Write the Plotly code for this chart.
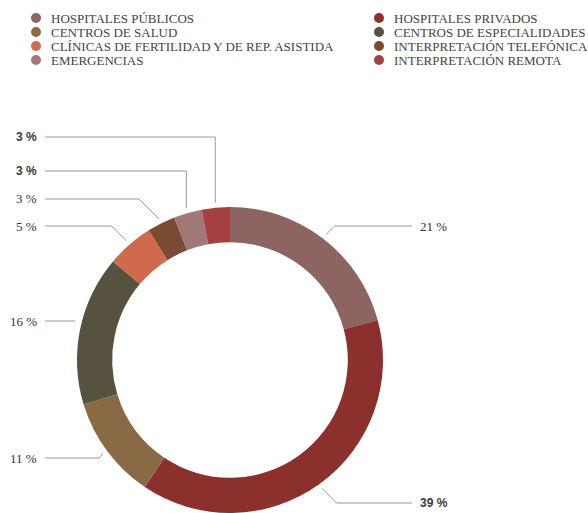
import math
import plotly.graph_objects as go

# Distribución por tipo de centro (porcentajes)
categories = [
    "HOSPITALES PÚBLICOS",
    "HOSPITALES PRIVADOS",
    "CENTROS DE SALUD",
    "CENTROS DE ESPECIALIDADES",
    "CLÍNICAS DE FERTILIDAD Y DE REP. ASISTIDA",
    "INTERPRETACIÓN TELEFÓNICA",
    "EMERGENCIAS",
    "INTERPRETACIÓN REMOTA",
]
values = [21, 39, 11, 16, 5, 3, 3, 3]
colors = ["#8c6462", "#8b302c", "#8a6a45", "#575140",
          "#cf6a4c", "#7a4a33", "#a27778", "#a4403f"]

W, H = 588, 513
CX, CY, R = 230, 360, 153
HOLE = 0.77


def px(x):
    return x / W


def py(y):
    return 1 - y / H


fig = go.Figure(go.Pie(
    labels=categories,
    values=values,
    hole=HOLE,
    sort=False,
    direction="clockwise",
    rotation=0,
    marker=dict(colors=colors, line=dict(width=0)),
    textinfo="none",
    hoverinfo="label+percent",
    domain=dict(x=[px(CX - R), px(CX + R)], y=[py(CY + R), py(CY - R)]),
    showlegend=False,
))

# leader-line layout: label row (pixel y), side, line style, bold label
label_rows = [226, 503, 458, 321, 226, 199, 171, 137]
label_side = ["right", "right", "left", "left", "left", "left", "left", "left"]
line_style = ["diag", "diag", "diag", "flat", "diag", "diag", "vert", "vert"]
label_bold = [False, True, False, False, False, False, True, True]
LEFT_END, RIGHT_END = 45, 412

serif = dict(family="Liberation Serif", size=13, color="#333")
bold = dict(family="Liberation Sans", size=12, color="#3a3a3a", weight="bold")

shapes = []
annotations = []
total = sum(values)
cum = 0.0
for i, v in enumerate(values):
    mid = (cum + v / 2) / total * 2 * math.pi
    cum += v
    sx = CX + (R + 5) * math.sin(mid)
    sy = CY - (R + 5) * math.cos(mid)
    ly = label_rows[i]
    if line_style[i] == "vert":
        ex = sx
    elif line_style[i] == "flat":
        sy = ly
        ex = sx
    else:
        d = abs(ly - sy)
        ex = sx + d if label_side[i] == "right" else sx - d
    end = RIGHT_END if label_side[i] == "right" else LEFT_END
    path = f"M {px(sx)} {py(sy)} L {px(ex)} {py(ly)} L {px(end)} {py(ly)}"
    shapes.append(dict(type="path", xref="paper", yref="paper", path=path,
                       line=dict(color="#9a9a9a", width=1)))
    right = label_side[i] == "right"
    annotations.append(dict(
        x=px(end + 6 if right else end - 6), y=py(ly), xref="paper", yref="paper",
        text=f"{v} %", showarrow=False,
        xanchor="left" if right else "right", yanchor="middle",
        font=bold if label_bold[i] else serif))

# two-column legend, filled row by row
legend_cols = [(36, 49), (379, 392)]
legend_rows = [18, 32, 46, 60]
for i, (name, col) in enumerate(zip(categories, colors)):
    mx, tx = legend_cols[i % 2]
    ry = legend_rows[i // 2]
    shapes.append(dict(type="circle", xref="paper", yref="paper",
                       x0=px(mx - 5), x1=px(mx + 5), y0=py(ry + 5), y1=py(ry - 5),
                       fillcolor=col, line=dict(width=0)))
    annotations.append(dict(x=px(tx), y=py(ry), xref="paper", yref="paper",
                            text=name, showarrow=False, xanchor="left", yanchor="middle",
                            font=dict(family="Liberation Serif", size=13, color="#444")))

fig.update_layout(
    width=W, height=H,
    margin=dict(l=0, r=0, t=0, b=0),
    paper_bgcolor="white",
    plot_bgcolor="white",
    shapes=shapes,
    annotations=annotations,
)

fig.write_html("out.html")
